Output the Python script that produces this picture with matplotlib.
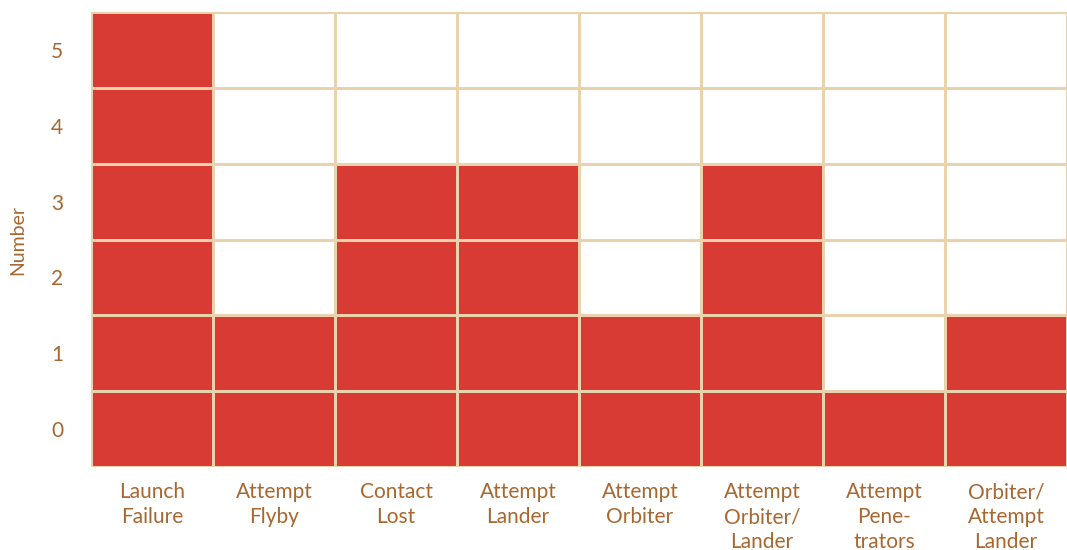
import numpy as np
import matplotlib
matplotlib.use("Agg")
import matplotlib.pyplot as plt

# categories and number of filled cells per column
categories = ["Launch\nFailure", "Attempt\nFlyby", "Contact\nLost", "Attempt\nLander",
              "Attempt\nOrbiter", "Attempt\nOrbiter/\nLander", "Attempt\nPene-\ntrators",
              "Orbiter/\nAttempt\nLander"]
counts = [6, 2, 4, 4, 2, 4, 1, 2]
levels = [0, 1, 2, 3, 4, 5]

red = "#d83a34"
grid_col = "#ead2ad"
txt = "#a8672f"

plt.rcParams['font.family'] = ['Lato', 'DejaVu Sans']

fig = plt.figure(figsize=(10.67, 5.5), dpi=100)
ax = fig.add_axes([0.0853, 0.151, 0.9147, 0.827])

filled = np.array([[1 if lv < c else 0 for c in counts] for lv in levels])
cmap = matplotlib.colors.ListedColormap(["white", red])
ax.pcolormesh(np.arange(len(categories) + 1) - 0.5, np.array(levels + [6]) - 0.5,
              filled, cmap=cmap, vmin=0, vmax=1, edgecolors=grid_col, linewidth=2)

ax.set_xlim(-0.5, len(categories) - 0.5)
ax.set_ylim(-0.5, 5.5)
ax.set_xticks(range(len(categories)))
ax.set_xticklabels(categories, fontsize=15, color=txt, linespacing=1.3, va="top")
ax.set_yticks(levels)
ax.set_yticklabels([str(l) for l in levels], fontsize=15, color=txt)
ax.tick_params(length=0, pad=20)
ax.tick_params(axis="x", pad=11)
ax.set_ylabel("Number", fontsize=14, color=txt)
ax.yaxis.set_label_coords(-0.066, 0.5)
for s in ax.spines.values():
    s.set_visible(False)

fig.savefig("out.png", dpi=100)
